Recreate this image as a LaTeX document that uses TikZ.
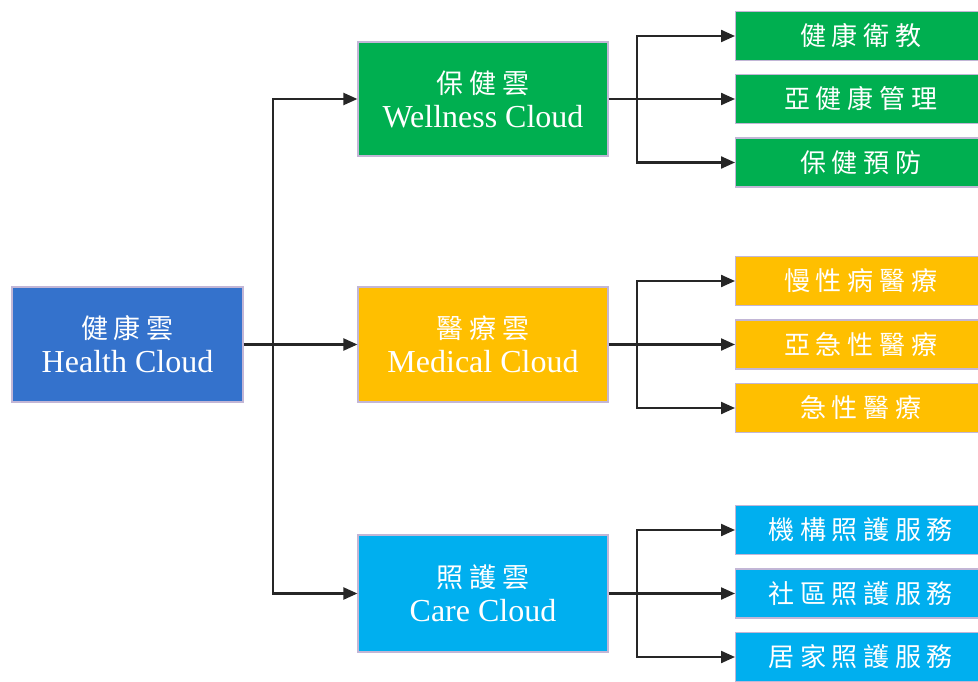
\documentclass[tikz,border=0pt]{standalone}
\usepackage{fontspec}
\setmainfont{Liberation Serif}
\newfontfamily\cjk[LetterSpace=22]{Noto Sans CJK TC}
\usetikzlibrary{arrows.meta}
\definecolor{cblue}{HTML}{3472CC}
\definecolor{cgreen}{HTML}{00AF50}
\definecolor{cgold}{HTML}{FFBF00}
\definecolor{ccyan}{HTML}{00AFEF}
\definecolor{bordc}{HTML}{C2B6D6}
\tikzset{
  x=1pt, y=-1pt,
  boxbase/.style={draw=bordc, line width=1.2pt, text=white, align=center, inner sep=0pt},
  bigbox/.style={boxbase, minimum width=250pt, font=\fontsize{32}{36}\selectfont},
  childbox/.style={boxbase, anchor=west, minimum width=250pt, minimum height=49pt, font=\fontsize{26}{30}\selectfont\cjk},
  conn/.style={line width=2.2pt, draw=black!85},
  arr/.style={conn, -{Triangle[length=14pt,width=12pt]}},
}
\newcommand{\twoline}[2]{{\fontsize{27}{36}\selectfont\cjk #1}\\[-2pt]#2}
\begin{document}
\begin{tikzpicture}
\useasboundingbox[fill=white] (0,0) rectangle (978,682);
% main boxes
\node[bigbox, fill=cblue, minimum width=231pt, minimum height=115pt] (health) at (127.5,344.5) {\twoline{健康雲}{Health Cloud}};
\node[bigbox, fill=cgreen, minimum height=114pt] (wel) at (483,99) {\twoline{保健雲}{Wellness Cloud}};
\node[bigbox, fill=cgold, minimum height=115pt] (med) at (483,344.5) {\twoline{醫療雲}{Medical Cloud}};
\node[bigbox, fill=ccyan, minimum height=117pt] (care) at (483,593.5) {\twoline{照護雲}{Care Cloud}};
% children
\node[childbox, fill=cgreen] (w1) at (735,36) {健康衛教};
\node[childbox, fill=cgreen] (w2) at (735,99) {亞健康管理};
\node[childbox, fill=cgreen] (w3) at (735,162.5) {保健預防};
\node[childbox, fill=cgold] (m1) at (735,281) {慢性病醫療};
\node[childbox, fill=cgold] (m2) at (735,344.5) {亞急性醫療};
\node[childbox, fill=cgold] (m3) at (735,408) {急性醫療};
\node[childbox, fill=ccyan] (c1) at (735,530) {機構照護服務};
\node[childbox, fill=ccyan] (c2) at (735,593.5) {社區照護服務};
\node[childbox, fill=ccyan] (c3) at (735,657) {居家照護服務};
% junctions
\coordinate (j0) at (273,344.5);
\coordinate (j1) at (637,99);
\coordinate (j2) at (637,344.5);
\coordinate (j3) at (637,593.5);
% connectors level 1
\draw[arr] (health.east) -- (med.west);
\draw[arr] (j0) |- (wel.west);
\draw[arr] (j0) |- (care.west);
% wellness
\draw[arr] (wel.east) -- (w2.west);
\draw[arr] (j1) |- (w1.west);
\draw[arr] (j1) |- (w3.west);
% medical
\draw[conn] (med.east) -- (j2);
\draw[arr] (j2) |- (m1.west);
\draw[arr] (j2) |- (m2.west);
\draw[arr] (j2) |- (m3.west);
% care
\draw[conn] (care.east) -- (j3);
\draw[arr] (j3) |- (c1.west);
\draw[arr] (j3) |- (c2.west);
\draw[arr] (j3) |- (c3.west);
\end{tikzpicture}
\end{document}
